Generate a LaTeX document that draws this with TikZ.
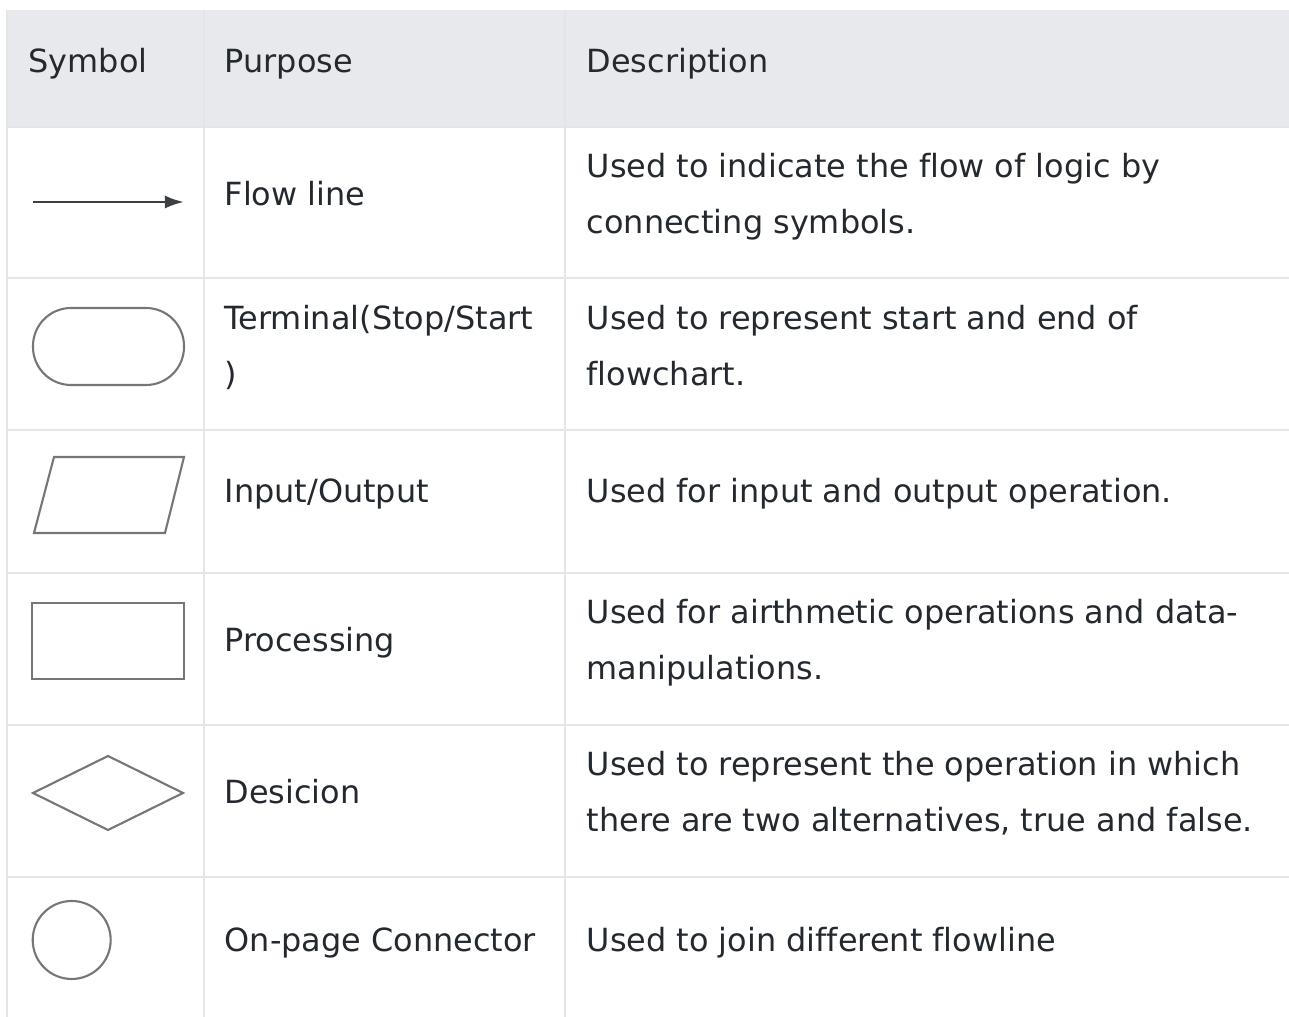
\documentclass[tikz,border=0pt]{standalone}
\usepackage{fontspec}
\setmainfont{DejaVu Sans}[Ligatures=NoCommon]
\usepackage{xcolor}
\usepackage{tikz}
\usetikzlibrary{arrows.meta}

\definecolor{headgray}{RGB}{232,233,236}
\definecolor{rulegray}{RGB}{228,229,231}
\definecolor{inkgray}{RGB}{36,41,47}
\definecolor{shapegray}{RGB}{118,118,118}
\definecolor{arrowgray}{RGB}{60,64,68}

\begin{document}
\begin{tikzpicture}[
        cell/.style={anchor=base west, inner sep=0pt, text=inkgray,
            font=\fontsize{9.08pt}{11pt}\selectfont},
        rule/.style={draw=rulegray, line width=0.57pt},
        symb/.style={draw=shapegray, line width=0.6pt}
    ]
        \useasboundingbox (0,0) rectangle (12.89,-10.17);

        % header band and grid
        \fill[headgray] (0.07,-0.10) rectangle (12.89,-1.27);
        \foreach \y in {1.27, 2.78, 4.30, 5.73, 7.25, 8.77}
            \draw[rule] (0.07,-\y) -- (12.89,-\y);
        \foreach \x in {0.07, 2.04, 5.65}
            \draw[rule] (\x,-0.10) -- (\x,-10.17);

        \node[cell] (hsymbol) at (0.28,-0.73) {Symbol};
        \node[cell] (hpurpose) at (2.24,-0.73) {Purpose};
        \node[cell] (hdesc) at (5.86,-0.73) {Description};

        % flow line
        \coordinate (flowtail) at (0.33,-2.02);
        \coordinate (flowhead) at (1.84,-2.02);
        \draw[symb, draw=arrowgray, line width=0.7pt, -{Latex[length=0.19cm, width=0.13cm]}] (flowtail) -- (flowhead);
        \node[cell] (pflow) at (2.24,-2.06) {Flow line};
        \node[cell] (dflowa) at (5.86,-1.78) {Used to indicate the flow of logic by};
        \node[cell] (dflowb) at (5.86,-2.34) {connecting symbols.};

        % terminal
        \draw[symb, rounded corners=0.38cm] (0.33,-3.08) rectangle (1.84,-3.85);
        \node[cell] (pterma) at (2.24,-3.30) {Terminal(Stop/Start};
        \node[cell] (ptermb) at (2.24,-3.86) {)};
        \node[cell] (dterma) at (5.86,-3.30) {Used to represent start and end of};
        \node[cell] (dtermb) at (5.86,-3.86) {flowchart.};

        % input/output
        \draw[symb] (0.54,-4.57) -- (1.84,-4.57) -- (1.65,-5.33) -- (0.34,-5.33) -- cycle;
        \node[cell] (pio) at (2.24,-5.03) {Input/Output};
        \node[cell] (dio) at (5.86,-5.03) {Used for input and output operation.};

        % processing
        \draw[symb] (0.32,-6.03) rectangle (1.84,-6.79);
        \node[cell] (pproc) at (2.24,-6.52) {Processing};
        \node[cell] (dproca) at (5.86,-6.24) {Used for airthmetic operations and data-};
        \node[cell] (dprocb) at (5.86,-6.80) {manipulations.};

        % decision
        \draw[symb] (0.33,-7.93) -- (1.08,-7.56) -- (1.83,-7.93) -- (1.08,-8.30) -- cycle;
        \node[cell] (pdec) at (2.24,-8.04) {Desicion};
        \node[cell] (ddeca) at (5.86,-7.76) {Used to represent the operation in which};
        \node[cell] (ddecb) at (5.86,-8.32) {there are two alternatives, true and false.};

        % connector
        \draw[symb] (0.717,-9.40) circle (0.39);
        \node[cell] (pconn) at (2.24,-9.52) {On-page Connector};
        \node[cell] (dconn) at (5.86,-9.52) {Used to join different flowline};
    \end{tikzpicture}
\end{document}
